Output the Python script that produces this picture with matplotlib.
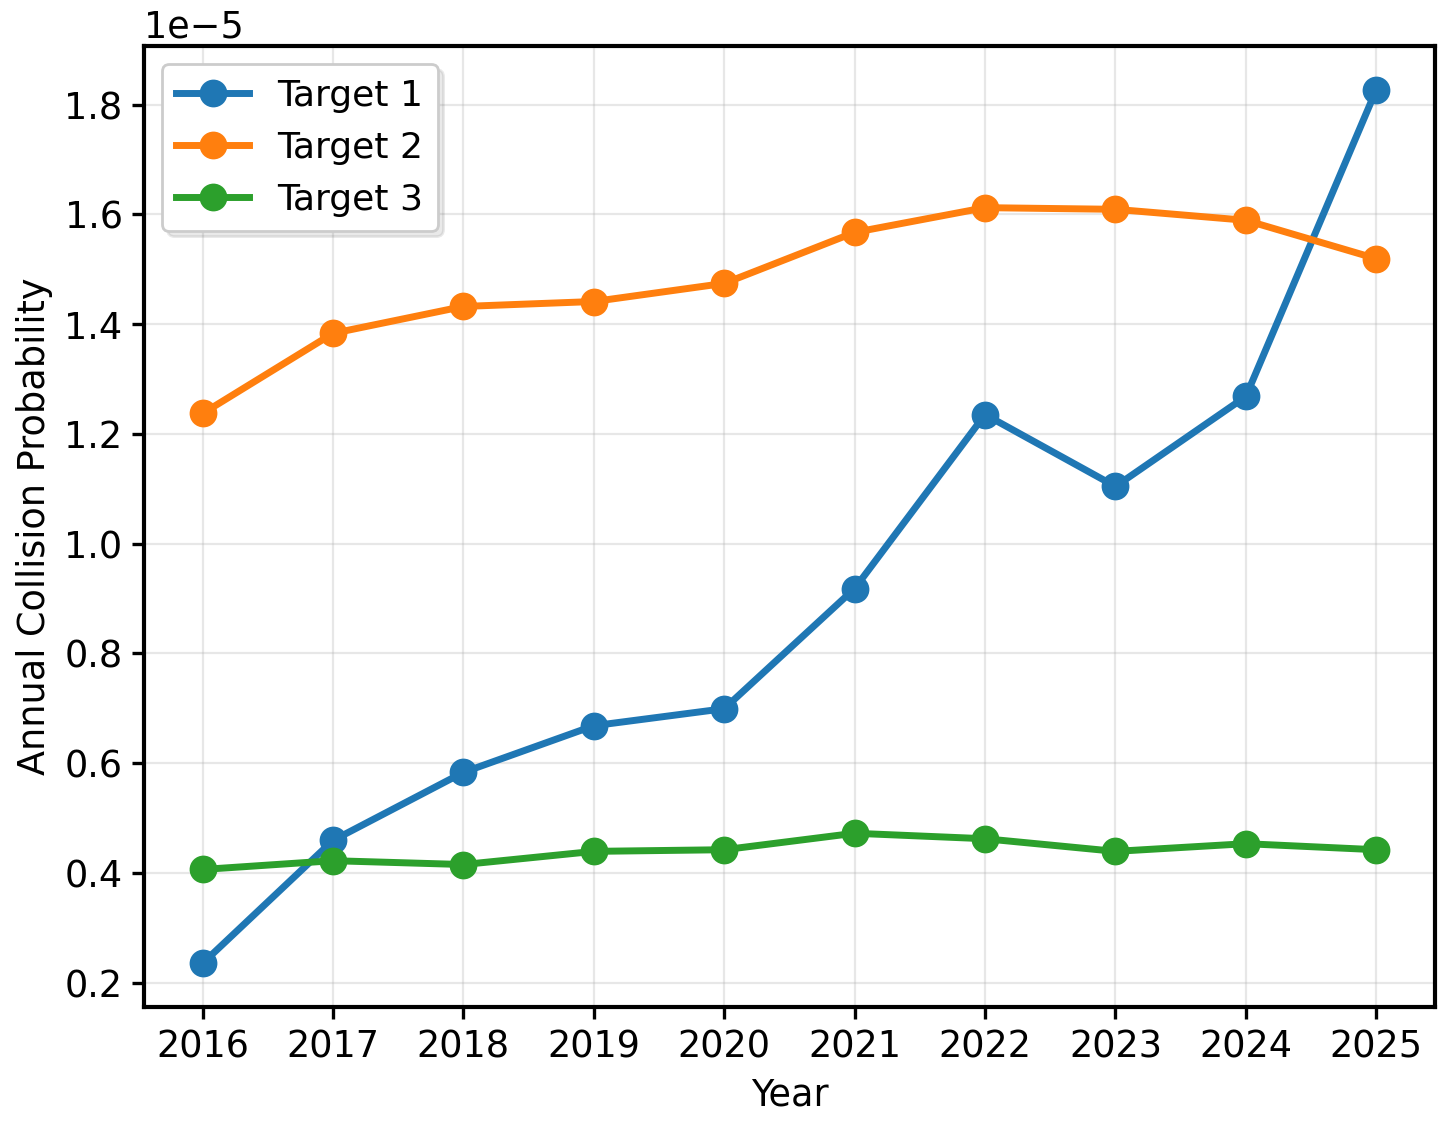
import matplotlib
matplotlib.use("Agg")
import matplotlib.pyplot as plt

years = [2016, 2017, 2018, 2019, 2020, 2021, 2022, 2023, 2024, 2025]
target1 = [0.235, 0.459, 0.583, 0.668, 0.699, 0.918, 1.235, 1.104, 1.268, 1.827]
target2 = [1.237, 1.383, 1.432, 1.441, 1.474, 1.567, 1.612, 1.609, 1.589, 1.519]
target3 = [0.406, 0.422, 0.415, 0.439, 0.442, 0.472, 0.462, 0.439, 0.453, 0.442]
labels = ["Target 1", "Target 2", "Target 3"]
colors = ["#1f77b4", "#ff7f0e", "#2ca02c"]

plt.rcParams['font.size'] = 13.2
fig, ax = plt.subplots(figsize=(7.24, 5.61), dpi=200)
for vals, lab, c in zip([target1, target2, target3], labels, colors):
    ax.plot(years, [v * 1e-5 for v in vals], marker='o', linewidth=2.5,
            markersize=9, color=c, label=lab)
ax.set_xticks(years)
ax.set_xlabel("Year")
ax.set_ylabel("Annual Collision Probability")
ax.grid(True, alpha=0.3)
for s in ax.spines.values():
    s.set_linewidth(1.5)
ax.tick_params(width=1.2, length=4.2)
ax.legend(loc='upper left', shadow={'alpha': 0.12}, fontsize=13)
fig.subplots_adjust(left=0.0994, right=0.991, top=0.959, bottom=0.1025)
fig.savefig("out.png", dpi=200)
